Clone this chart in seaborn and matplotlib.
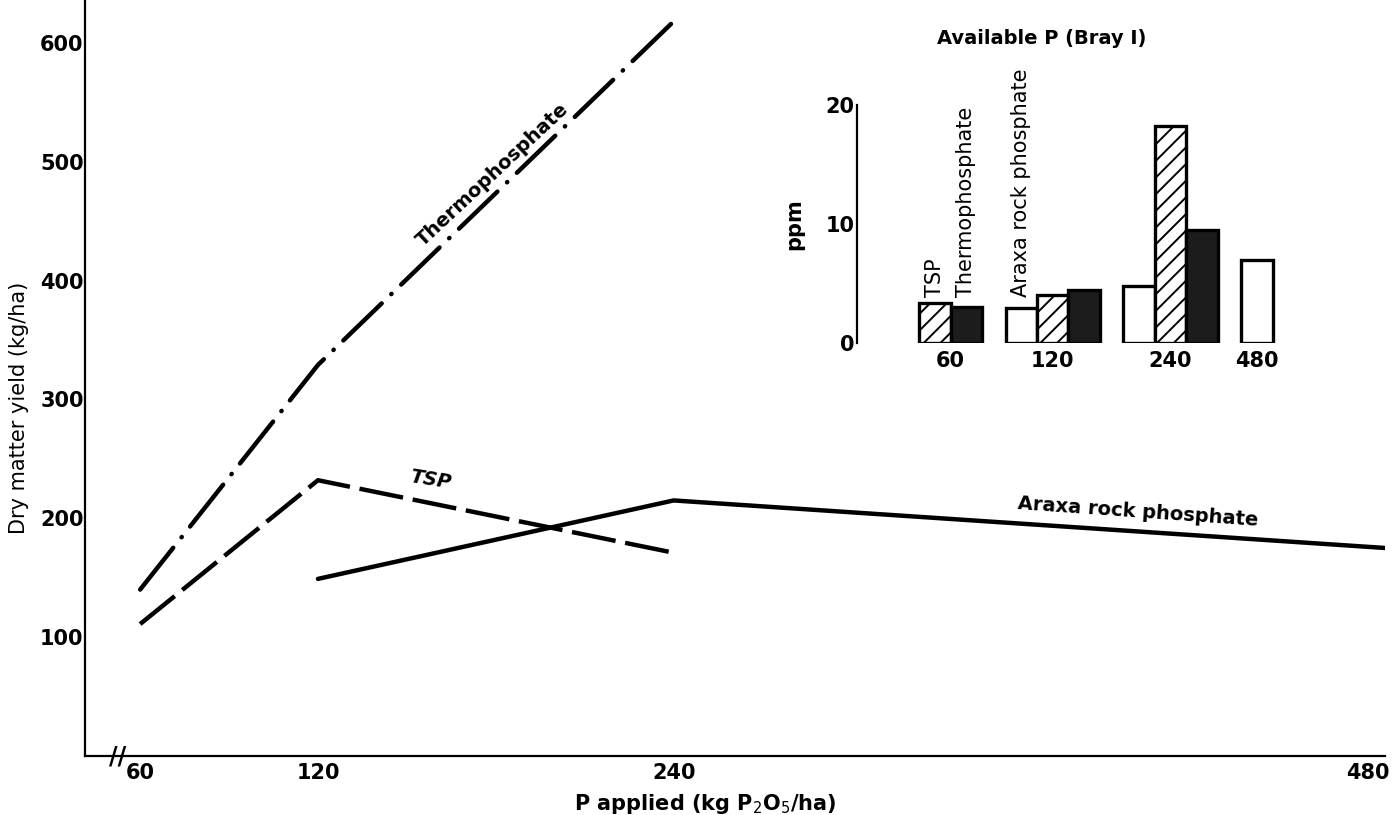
import numpy as np
import pandas as pd
import matplotlib
matplotlib.use("Agg")
import matplotlib.pyplot as plt
import matplotlib.transforms as mtransforms
import seaborn as sns

# dry matter yield (kg/ha)
dose_thermo = [60, 120, 240]
yield_thermo = [140, 329, 618]
dose_tsp = [60, 120, 240]
yield_tsp = [111, 232, 171]
dose_araxa = [120, 240, 480]
yield_araxa = [149, 215, 175]

x_ticks = [60, 120, 240, 480]
y_ticks = [100, 200, 300, 400, 500, 600]

# inset: available P (Bray I), ppm
bar_dose = ["60", "60", "120", "120", "120", "240", "240", "240", "480"]
bar_source = ["TSP", "Thermophosphate",
              "Araxa rock phosphate", "TSP", "Thermophosphate",
              "Araxa rock phosphate", "TSP", "Thermophosphate",
              "Araxa rock phosphate"]
bar_ppm = [3.3, 3.0, 2.9, 4.0, 4.4, 4.8, 18.2, 9.5, 7.0]
dose_order = ["60", "120", "240", "480"]
source_order = ["Araxa rock phosphate", "TSP", "Thermophosphate"]

sns.set_style("white")
plt.rcParams["font.family"] = ["DejaVu Sans"]
plt.rcParams["hatch.linewidth"] = 1.4
for k in ["text.color", "axes.labelcolor", "xtick.color", "ytick.color"]:
    plt.rcParams[k] = "black"

W, H = 1392, 815
fig = plt.figure(figsize=(W / 100, H / 100), dpi=100)

# ---- main chart ----
ax = fig.add_axes([85 / W, 1 - 756 / H, 1300 / W, 756 / H])
lw = 3.2
sns.lineplot(x=dose_thermo, y=yield_thermo, color="black", linewidth=lw,
             linestyle=(0, (12, 3.0, 0.1, 3.0)), dash_capstyle="round", ax=ax)
sns.lineplot(x=dose_tsp, y=yield_tsp, color="black", linewidth=lw,
             linestyle=(0, (10, 2.2)), ax=ax)
sns.lineplot(x=dose_araxa, y=yield_araxa, color="black", linewidth=lw,
             solid_capstyle="round", ax=ax)

ax.set_xlim(41.4, 480)
ax.set_ylim(0, 636)
ax.set_xticks(x_ticks)
ax.set_xticklabels([str(v) for v in x_ticks])
ax.set_yticks(y_ticks)
ax.set_yticklabels([str(v) for v in y_ticks])
for s in ["top", "right"]:
    ax.spines[s].set_visible(False)
for s in ["left", "bottom"]:
    ax.spines[s].set_linewidth(1.6)
    ax.spines[s].set_color("black")
ax.tick_params(axis="y", direction="in", length=10, width=1.6, pad=1,
               labelsize=15)
ax.tick_params(axis="x", direction="in", length=6, width=1.4, pad=5,
               labelsize=15)
for t in ax.get_xticklabels() + ax.get_yticklabels():
    t.set_fontweight("bold")
# last x label sits against the right edge
last = ax.get_xticklabels()[-1]
last.set_horizontalalignment("right")
last.set_transform(last.get_transform() +
                   mtransforms.ScaledTranslation(5 / 100, 0, fig.dpi_scale_trans))

ax.set_ylabel("Dry matter yield (kg/ha)", fontsize=15)
ax.yaxis.set_label_coords(-0.043, 0.46)
ax.set_xlabel(r"P applied (kg P$_2$O$_5$/ha)", fontsize=15, fontweight="bold")
ax.xaxis.set_label_coords(0.477, -0.047)

ax.text(52.5, 0, "//", ha="center", va="center", fontsize=17,
        fontweight="bold", clip_on=False)

ax.text(178.8, 489, "Thermophosphate", rotation=43, ha="center",
        va="center", fontsize=14, fontweight="bold")
ax.text(157.8, 232, "TSP", rotation=-9, ha="center", va="center",
        fontsize=14, fontweight="bold", fontstyle="italic")
ax.text(396.7, 205, "Araxa rock phosphate", rotation=-4, ha="center",
        va="center", fontsize=14, fontweight="bold")

# ---- inset bar chart ----
axin = fig.add_axes([857 / W, 1 - 342.7 / H, 422 / W, 237.7 / H])
df = pd.DataFrame({"dose": bar_dose, "source": bar_source, "ppm": bar_ppm})
sns.barplot(data=df, x="dose", y="ppm", hue="source", order=dose_order,
            hue_order=source_order,
            palette={"Araxa rock phosphate": "white", "TSP": "white",
                     "Thermophosphate": "#1c1c1c"},
            saturation=1, edgecolor="black", linewidth=2.4, width=0.8,
            errorbar=None, legend=False, ax=axin)
for bar in axin.containers[1]:
    bar.set_hatch("//")

axin.set_xlim(-0.66, 2.92)
axin.set_ylim(0, 20)
axin.set_yticks([0, 10, 20])
axin.set_yticklabels(["0", "10", "20"])

# tick labels under the middle of the bars present in each group
centers = {}
for cont in axin.containers:
    for p in cont.patches:
        c = p.get_x() + p.get_width() / 2
        centers.setdefault(int(round(c)), []).append(c)
keys = sorted(centers)
axin.set_xticks([np.mean(centers[k]) for k in keys])
axin.set_xticklabels([dose_order[k] for k in keys])

for s in ["top", "right", "bottom"]:
    axin.spines[s].set_visible(False)
axin.spines["left"].set_linewidth(1.6)
axin.spines["left"].set_color("black")
axin.tick_params(axis="y", direction="in", length=7, width=1.6, pad=2,
                 labelsize=15)
axin.tick_params(axis="x", length=0, pad=6, labelsize=15)
for t in axin.get_xticklabels() + axin.get_yticklabels():
    t.set_fontweight("bold")
axin.set_xlabel("")
axin.set_ylabel("ppm", fontsize=15, fontweight="bold")
axin.yaxis.set_label_coords(-0.125, 0.5)
axin.patch.set_alpha(0)

axin.text(0.438, 1.28, "Available P (Bray I)", transform=axin.transAxes,
          ha="center", va="center", fontsize=14, fontweight="bold")

# bar type names written above the first bars
label_bars = [(axin.containers[1].patches[0], "TSP"),
              (axin.containers[2].patches[0], "Thermophosphate"),
              (axin.containers[0].patches[0], "Araxa rock phosphate")]
for p, name in label_bars:
    axin.text(p.get_x() + p.get_width() / 2, 3.85, name, rotation=90,
              ha="center", va="bottom", fontsize=15)

fig.savefig("out.png", dpi=100)
